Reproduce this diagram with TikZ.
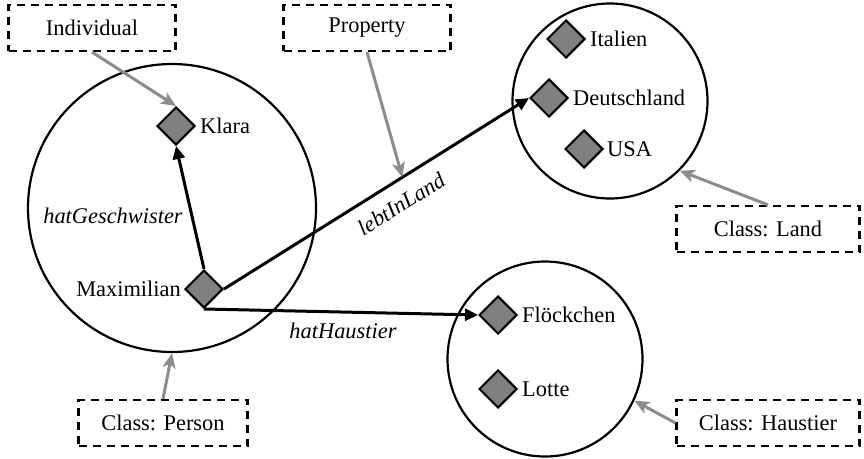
\documentclass[tikz,border=0pt]{standalone}
\usepackage{fontspec}
\setmainfont{Liberation Serif}
\newfontfamily\labelfont{Liberation Serif}
\usetikzlibrary{shapes.geometric,arrows.meta}
\begin{document}
\begin{tikzpicture}[x=1pt,y=-1pt,
  every node/.style={font=\labelfont\fontsize{22.4}{26}\selectfont},
  conceptbox/.style={draw,line width=2.2pt,dash pattern=on 8pt off 6pt,minimum width=166pt,minimum height=46pt,inner sep=0},
  setcircle/.style={draw,line width=2.2pt,circle,inner sep=0},
  indiv/.style={draw,diamond,fill=black!50,line width=2pt,minimum width=38pt,minimum height=38pt,inner sep=0,aspect=1},
  relarrow/.style={line width=3pt,-{Triangle[length=13pt,width=12pt]}},
  metaarrow/.style={line width=3pt,draw=black!45,-{Stealth[length=15pt,width=13pt,inset=4pt]}},
  rellabel/.style={font=\labelfont\fontsize{22.4}{26}\selectfont\itshape}]
\useasboundingbox (0,0) rectangle (864,458);

% class extents
\node[setcircle,minimum size=288pt] (pc) at (172,208) {};
\node[setcircle,minimum size=195pt] (lc) at (610,101) {};
\node[setcircle,minimum size=195pt] (hc) at (545,359) {};

% individuals
\node[indiv] (k) at (176,126) {};
\node[indiv] (m) at (204,289) {};
\node[indiv] (it) at (566,39) {};
\node[indiv] (de) at (549,98) {};
\node[indiv] (us) at (584,149) {};
\node[indiv] (fl) at (498,315) {};
\node[indiv] (lo) at (498,389) {};

\node[anchor=west,inner sep=4pt] (kl) at (k.east) {Klara};
\node[anchor=east,inner sep=3pt] (ml) at (m.west) {Maximilian};
\node[anchor=west,inner sep=4pt] (itl) at (it.east) {Italien};
\node[anchor=west,inner sep=4pt] (del) at (de.east) {Deutschland};
\node[anchor=west,inner sep=3pt] (usl) at (us.east) {USA};
\node[anchor=west,inner sep=4pt] (fll) at (fl.east) {Flöckchen};
\node[anchor=west,inner sep=4pt] (lol) at (lo.east) {Lotte};

% concept boxes
\node[conceptbox,minimum width=167pt] (ind) at (92,28) {Individual};
\node[conceptbox,minimum width=167pt] (prop) at (367,28) {Property};
\node[conceptbox,minimum width=183pt] (land) at (768,229) {Class: Land};
\node[conceptbox,minimum width=169pt] (pers) at (163,423) {Class: Person};
\node[conceptbox,minimum width=183pt] (haus) at (768,423) {Class: Haustier};

% relations
\draw[relarrow] (m.north) -- (k.south);
\draw[relarrow] (m.east) -- (de.west) coordinate[pos=0.585] (lp);
\draw[relarrow] (m.south) -- (fl.west);

\node[rellabel] (hg) at (113,216) {hatGeschwister};
\node[rellabel,rotate=32] (li) at (401,204) {lebtInLand};
\node[rellabel] (hh) at (343,331) {hatHaustier};

% meta arrows
\draw[metaarrow] (ind.south) -- (k.north);
\draw[metaarrow] (prop.south) -- (lp);
\draw[metaarrow] (pers.north) -- (pc.south);
\draw[metaarrow] (land.north) -- (lc.-45);
\draw[metaarrow] (haus.west) -- (hc.-25);
\end{tikzpicture}
\end{document}
